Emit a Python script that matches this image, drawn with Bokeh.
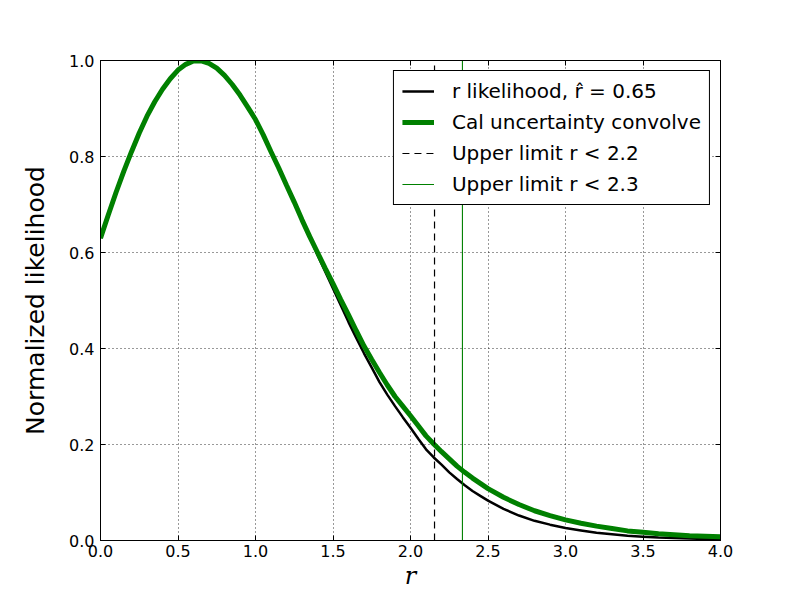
from bokeh.plotting import figure
from bokeh.models import Range1d, LinearAxis, FixedTicker, PrintfTickFormatter, CustomJSTickFormatter, Legend, LegendItem
from bokeh.embed import file_html
from bokeh.resources import INLINE

# ---- data ----
r_vals = [0.00, 0.05, 0.10, 0.15, 0.20, 0.25, 0.30, 0.35, 0.40, 0.45,
          0.50, 0.55, 0.60, 0.65, 0.70, 0.75, 0.80, 0.85, 0.90, 0.95,
          1.00, 1.05, 1.10, 1.15, 1.20, 1.25, 1.30, 1.35, 1.40, 1.45,
          1.50, 1.55, 1.60, 1.65, 1.70, 1.75, 1.80, 1.85, 1.90, 1.95,
          2.00, 2.05, 2.10, 2.15, 2.20, 2.25, 2.30, 2.35, 2.40, 2.45,
          2.50, 2.60, 2.70, 2.80, 2.90, 3.00, 3.10, 3.20, 3.30, 3.40,
          3.50, 3.60, 3.70, 3.80, 3.90, 4.00]
likelihood = [0.630, 0.678, 0.725, 0.769, 0.810, 0.849, 0.884, 0.914, 0.940, 0.962,
              0.980, 0.992, 0.999, 0.999, 0.994, 0.984, 0.969, 0.950, 0.928, 0.903,
              0.877, 0.845, 0.810, 0.776, 0.740, 0.705, 0.668, 0.632, 0.595, 0.560,
              0.525, 0.490, 0.455, 0.422, 0.390, 0.360, 0.330, 0.304, 0.280, 0.257,
              0.235, 0.212, 0.190, 0.173, 0.158, 0.142, 0.128, 0.115, 0.103, 0.093,
              0.083, 0.066, 0.052, 0.041, 0.033, 0.026, 0.021, 0.016, 0.013, 0.010,
              0.008, 0.006, 0.005, 0.004, 0.003, 0.002]
convolved = [0.630, 0.678, 0.725, 0.769, 0.810, 0.849, 0.884, 0.914, 0.940, 0.962,
             0.980, 0.992, 0.999, 0.999, 0.994, 0.984, 0.969, 0.950, 0.928, 0.903,
             0.877, 0.845, 0.810, 0.776, 0.740, 0.705, 0.668, 0.633, 0.600, 0.567,
             0.535, 0.502, 0.470, 0.437, 0.405, 0.377, 0.350, 0.324, 0.300, 0.280,
             0.260, 0.239, 0.218, 0.201, 0.185, 0.170, 0.155, 0.142, 0.130, 0.119,
             0.108, 0.090, 0.075, 0.062, 0.052, 0.043, 0.036, 0.030, 0.025, 0.020,
             0.017, 0.014, 0.012, 0.010, 0.009, 0.008]
upper_limit_1 = 2.155
upper_limit_2 = 2.335
x_ticks = [0.0, 0.5, 1.0, 1.5, 2.0, 2.5, 3.0, 3.5, 4.0]
y_ticks = [0.0, 0.2, 0.4, 0.6, 0.8, 1.0]
labels = ["r likelihood, r\u0302 = 0.65", "Cal uncertainty convolve",
          "Upper limit r < 2.2", "Upper limit r < 2.3"]

FONT = "DejaVu Sans"

p = figure(frame_width=620, frame_height=480,
           min_border_left=100, min_border_right=72, min_border_top=60, min_border_bottom=52,
           x_range=Range1d(0, 4), y_range=Range1d(0, 1),
           output_backend="svg", toolbar_location=None,
           background_fill_color="white", border_fill_color="white")

p.outline_line_color = "black"
p.outline_line_width = 1

for ax in (p.xaxis, p.yaxis):
    ax.major_tick_in = 5
    ax.major_tick_out = 0
    ax.minor_tick_in = 0
    ax.minor_tick_out = 0
    ax.major_label_text_font = FONT
    ax.major_label_text_font_size = "16px"
    ax.major_label_text_color = "black"
    ax.axis_line_color = "black"
    ax.major_tick_line_color = "black"
    ax.axis_label_text_color = "black"
    ax.formatter = PrintfTickFormatter(format="%.1f")

p.xaxis.ticker = FixedTicker(ticks=x_ticks)
p.yaxis.ticker = FixedTicker(ticks=y_ticks)
p.xaxis.major_label_standoff = 4
p.yaxis.major_label_standoff = 6

p.xaxis.axis_label = "r"
p.xaxis.axis_label_text_font = "DejaVu Serif"
p.xaxis.axis_label_text_font_style = "italic"
p.xaxis.axis_label_text_font_size = "24px"
p.xaxis.axis_label_standoff = 2

p.yaxis.axis_label = "Normalized likelihood"
p.yaxis.axis_label_text_font = FONT
p.yaxis.axis_label_text_font_style = "normal"
p.yaxis.axis_label_text_font_size = "25px"
p.yaxis.axis_label_standoff = 16

blank = CustomJSTickFormatter(code="return ''")
top = LinearAxis(ticker=FixedTicker(ticks=x_ticks), formatter=blank,
                 major_tick_in=5, major_tick_out=0, minor_tick_in=0, minor_tick_out=0,
                 axis_line_color="black")
right = LinearAxis(ticker=FixedTicker(ticks=y_ticks), formatter=blank,
                   major_tick_in=5, major_tick_out=0, minor_tick_in=0, minor_tick_out=0,
                   axis_line_color="black")
p.add_layout(top, "above")
p.add_layout(right, "right")

p.xgrid.ticker = FixedTicker(ticks=x_ticks)
p.ygrid.ticker = FixedTicker(ticks=y_ticks)
for g in (p.xgrid, p.ygrid):
    g.grid_line_color = "black"
    g.grid_line_alpha = 0.8
    g.grid_line_width = 1
    g.grid_line_dash = "1 3"

l1 = p.line(r_vals, likelihood, line_color="black", line_width=2.5)
l2 = p.line(r_vals, convolved, line_color="#008000", line_width=5)
l3 = p.line([upper_limit_1, upper_limit_1], [0, 1], line_color="black", line_width=1.2, line_dash="7 5")
l4 = p.line([upper_limit_2, upper_limit_2], [0, 1], line_color="#008000", line_width=1.1)

legend = Legend(items=[LegendItem(label=labels[0], renderers=[l1]),
                       LegendItem(label=labels[1], renderers=[l2]),
                       LegendItem(label=labels[2], renderers=[l3]),
                       LegendItem(label=labels[3], renderers=[l4])],
                location="top_right")
legend.label_text_font = FONT
legend.label_text_font_size = "20px"
legend.label_text_color = "black"
legend.border_line_color = "black"
legend.border_line_width = 1
legend.border_line_alpha = 1
legend.background_fill_alpha = 1
legend.glyph_width = 32
legend.glyph_height = 20
legend.label_height = 20
legend.label_standoff = 18
legend.spacing = 7
legend.padding = 8
legend.margin = 10
p.add_layout(legend, "center")

open("out.html", "w").write(file_html(p, INLINE))
